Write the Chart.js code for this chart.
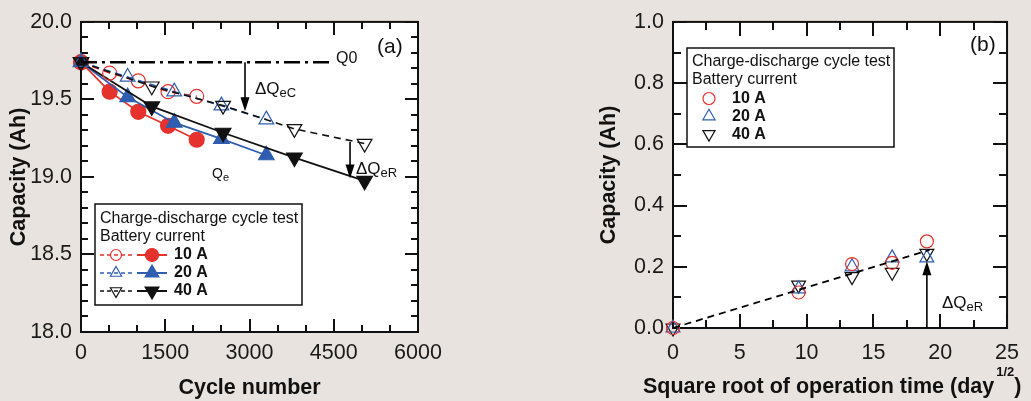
<!DOCTYPE html>
<html><head><meta charset="utf-8">
<script src="https://cdn.jsdelivr.net/npm/chart.js@4.4.0/dist/chart.umd.min.js"></script>
<style>
html,body{margin:0;padding:0;background:#e8e3de;width:1031px;height:401px;overflow:hidden;}
#wa{position:absolute;left:0;top:0;width:460px;height:401px;}
#wb{position:absolute;left:590px;top:0;width:441px;height:401px;}
canvas{display:block;}
</style></head><body>
<div id="wa"><canvas id="ca" width="460" height="401"></canvas></div>
<div id="wb"><canvas id="cb" width="441" height="401"></canvas></div>
<script>
// ---------- Panel (a) data ----------
const cycles10 = [0, 510, 1020, 1550, 2060];
const cap10Open = [19.74, 19.67, 19.62, 19.55, 19.52];
const cap10Filled = [19.74, 19.55, 19.42, 19.33, 19.24];
const cycles20 = [0, 830, 1660, 2500, 3300];
const cap20Open = [19.74, 19.645, 19.55, 19.46, 19.37];
const cap20Filled = [19.74, 19.515, 19.35, 19.245, 19.14];
const cycles40 = [0, 1260, 2530, 3800, 5050];
const cap40Open = [19.74, 19.585, 19.46, 19.31, 19.215];
const cap40Filled = [19.74, 19.455, 19.285, 19.125, 18.975];
const q0Cycles = [0, 4480];
const q0Cap = [19.74, 19.74];
const arrowC = {cycle: 2920, from: 19.74, to: 19.424};
const arrowR = {cycle: 4790, from: 19.225, to: 18.99};
const xTicksA = [0, 1500, 3000, 4500, 6000];
const xMinorA = [500, 1000, 2000, 2500, 3500, 4000, 5000, 5500];
const yTicksA = [18.0, 18.5, 19.0, 19.5, 20.0];
const yMinorA = [18.1,18.2,18.3,18.4,18.6,18.7,18.8,18.9,19.1,19.2,19.3,19.4,19.6,19.7,19.8,19.9];
const legendLabels = ['10 A', '20 A', '40 A'];
const legendHeader = ['Charge-discharge cycle test', 'Battery current'];

// ---------- Panel (b) data ----------
const sqrtTime = [0, 9.4, 13.4, 16.4, 19.0];
const loss10 = [0, 0.116, 0.209, 0.213, 0.283];
const loss20 = [0, 0.128, 0.200, 0.229, 0.229];
const loss40 = [0, 0.140, 0.168, 0.182, 0.244];
const fitX = [0, 19.2];
const fitY = [0, 0.255];
const arrowB = {x: 19.0, from: 0, to: 0.218};
const xTicksB = [0, 5, 10, 15, 20, 25];
const xMinorB = [2.5, 7.5, 12.5, 17.5, 22.5];
const yTicksB = [0.0, 0.2, 0.4, 0.6, 0.8, 1.0];
const yMinorB = [0.1, 0.3, 0.5, 0.7, 0.9];

const RED = '#e5322d', BLUE = '#2f5db0', BLACK = '#111111';
const FONT = '"Liberation Sans", Arial, Helvetica, sans-serif';
const pts = (xs, ys) => xs.map((x, i) => ({x, y: ys[i]}));

Chart.defaults.font.family = FONT;

const bgPlugin = {
  id: 'plotBg',
  beforeDraw(chart) {
    const {ctx, chartArea: a} = chart;
    ctx.save(); ctx.fillStyle = '#ffffff';
    ctx.fillRect(a.left, a.top, a.right - a.left, a.bottom - a.top);
    ctx.restore();
  },
  beforeDatasetsDraw(chart, args, o) {
    const {ctx, chartArea: a, scales: {x, y}} = chart;
    ctx.save(); ctx.strokeStyle = '#111'; ctx.lineWidth = 2; ctx.setLineDash([]);
    const tick = (vals, len, horiz) => {
      vals.forEach(v => {
        ctx.beginPath();
        if (horiz) {
          const px = Math.round(x.getPixelForValue(v));
          ctx.moveTo(px, a.bottom); ctx.lineTo(px, a.bottom - len);
          ctx.moveTo(px, a.top); ctx.lineTo(px, a.top + len);
        } else {
          const py = Math.round(y.getPixelForValue(v));
          ctx.moveTo(a.left, py); ctx.lineTo(a.left + len, py);
          ctx.moveTo(a.right, py); ctx.lineTo(a.right - len, py);
        }
        ctx.stroke();
      });
    };
    tick(o.xMajor, o.major, true); tick(o.xMinor, o.minor, true);
    tick(o.yMajor, o.major, false); tick(o.yMinor, o.minor, false);
    ctx.strokeRect(a.left, a.top, a.right - a.left, a.bottom - a.top);
    ctx.restore();
  }
};

function arrow(ctx, x, y1, y2) {
  const d = Math.sign(y2 - y1);
  ctx.save(); ctx.strokeStyle = '#000'; ctx.fillStyle = '#000'; ctx.lineWidth = 1.6; ctx.setLineDash([]);
  ctx.beginPath(); ctx.moveTo(x, y1); ctx.lineTo(x, y2 - d * 10); ctx.stroke();
  ctx.beginPath(); ctx.moveTo(x, y2); ctx.lineTo(x - 4.5, y2 - d * 14); ctx.lineTo(x + 4.5, y2 - d * 14); ctx.closePath(); ctx.fill();
  ctx.restore();
}
function subText(ctx, x, y, main, sub, ms, ss) {
  ctx.save(); ctx.fillStyle = '#111'; ctx.textBaseline = 'alphabetic'; ctx.textAlign = 'left';
  ctx.font = ms + 'px ' + FONT; ctx.fillText(main, x, y);
  const w = ctx.measureText(main).width;
  ctx.font = ss + 'px ' + FONT; ctx.fillText(sub, x + w, y + 3);
  ctx.restore();
}
function marker(ctx, style, rot, r, x, y, color, filled) {
  ctx.save(); ctx.setLineDash([]);
  ctx.strokeStyle = color; ctx.fillStyle = filled ? color : 'rgba(0,0,0,0)'; ctx.lineWidth = 1.2;
  Chart.helpers.drawPoint(ctx, {pointStyle: style, rotation: rot, radius: r, borderWidth: 1.2}, x, y);
  ctx.restore();
}
const styles = [
  {color: RED, style: 'circle', rot: 0, ro: 7, rf: 7.5},
  {color: BLUE, style: 'triangle', rot: 0, ro: 8.5, rf: 9},
  {color: BLACK, style: 'triangle', rot: 180, ro: 8.5, rf: 9}
];

// ---------- Chart (a) ----------
const annotA = {
  id: 'annotA',
  afterDatasetsDraw(chart) {
    const {ctx, scales: {x, y}} = chart;
    arrow(ctx, x.getPixelForValue(arrowC.cycle), y.getPixelForValue(arrowC.from), y.getPixelForValue(arrowC.to));
    arrow(ctx, x.getPixelForValue(arrowR.cycle), y.getPixelForValue(arrowR.from), y.getPixelForValue(arrowR.to));
    ctx.save(); ctx.fillStyle = '#111'; ctx.textBaseline = 'middle';
    ctx.font = '16px ' + FONT; ctx.fillText('Q0', 336, 59);
    ctx.font = '21px ' + FONT; ctx.fillText('(a)', 377, 47);
    ctx.restore();
    subText(ctx, 255, 94, 'ΔQ', 'eC', 17, 13);
    subText(ctx, 356, 174, 'ΔQ', 'eR', 17, 13);
    subText(ctx, 212, 178, 'Q', 'e', 14, 11);
    // legend
    ctx.save();
    ctx.fillStyle = '#fff'; ctx.fillRect(95, 204, 207, 101);
    ctx.strokeStyle = '#111'; ctx.lineWidth = 1.5; ctx.strokeRect(95, 204, 207, 101);
    ctx.fillStyle = '#111'; ctx.textBaseline = 'middle'; ctx.font = '16px ' + FONT;
    ctx.fillText(legendHeader[0], 100, 219); ctx.fillText(legendHeader[1], 100, 237);
    legendLabels.forEach((lab, i) => {
      const s = styles[i], yy = 255 + 18 * i;
      ctx.strokeStyle = s.color; ctx.lineWidth = 1.5; ctx.setLineDash([4, 3]);
      ctx.beginPath(); ctx.moveTo(100, yy); ctx.lineTo(133, yy); ctx.stroke();
      ctx.setLineDash([]); ctx.lineWidth = 2;
      ctx.beginPath(); ctx.moveTo(137, yy); ctx.lineTo(167, yy); ctx.stroke();
      marker(ctx, s.style, s.rot, s.style === 'circle' ? 5.5 : 6.5, 116, yy, s.color, false);
      marker(ctx, s.style, s.rot, s.style === 'circle' ? 6.5 : 8, 152, yy, s.color, true);
      ctx.fillStyle = '#111'; ctx.font = 'bold 16px ' + FONT; ctx.fillText(lab, 174, yy);
    });
    ctx.restore();
  }
};

function ds(data, s, filled, dashed, order) {
  return {
    data, showLine: true, clip: false, order,
    borderColor: s.color, borderWidth: dashed ? 1.6 : 1.8, borderDash: dashed ? [7, 5] : [],
    pointStyle: s.style, pointRotation: s.rot, pointRadius: filled ? s.rf : s.ro,
    pointBackgroundColor: filled ? s.color : 'rgba(0,0,0,0)', pointBorderColor: s.color,
    pointBorderWidth: 1.2
  };
}

function scaleCfg(c) {
  return {
    x: {
      type: 'linear', min: c.xmin, max: c.xmax,
      afterFit(s) { s.height = c.xh; },
      afterBuildTicks(s) { s.ticks = c.xt.map(v => ({value: v})); },
      grid: {display: false, drawTicks: false}, border: {display: false},
      ticks: {autoSkip: false, maxRotation: 0, padding: c.xpad, color: '#1a1a1a',
        font: {family: FONT, size: 21.5}, callback: v => String(v)},
      title: c.xtitle ? {display: true, text: c.xtitle, color: '#111',
        font: {family: FONT, size: 21.5, weight: 'bold', lineHeight: 1.2}, padding: {top: 0, bottom: 0}} : {display: false}
    },
    y: {
      type: 'linear', min: c.ymin, max: c.ymax,
      afterFit(s) { s.width = c.yw; },
      afterBuildTicks(s) { s.ticks = c.yt.map(v => ({value: v})); },
      grid: {display: false, drawTicks: false}, border: {display: false},
      ticks: {autoSkip: false, padding: 9, color: '#1a1a1a',
        font: {family: FONT, size: 21.5}, callback: v => Number(v).toFixed(1)},
      title: {display: true, text: 'Capacity (Ah)', color: '#111',
        font: {family: FONT, size: 21.5, weight: 'bold', lineHeight: 1.2}, padding: {top: 6, bottom: 0}}
    }
  };
}

new Chart(document.getElementById('ca'), {
  type: 'scatter',
  data: {datasets: [
    {data: pts(q0Cycles, q0Cap), showLine: true, borderColor: '#000', borderWidth: 2.5,
     borderDash: [16, 5, 3, 5], pointRadius: 0, order: 0},
    ds(pts(cycles40, cap40Open), styles[2], false, true, 1),
    ds(pts(cycles20, cap20Open), styles[1], false, true, 2),
    ds(pts(cycles10, cap10Open), styles[0], false, true, 3),
    ds(pts(cycles40, cap40Filled), styles[2], true, false, 4),
    ds(pts(cycles20, cap20Filled), styles[1], true, false, 5),
    ds(pts(cycles10, cap10Filled), styles[0], true, false, 6)
  ]},
  options: {
    responsive: false, animation: false, events: [],
    layout: {padding: {top: 16, right: 42, left: 0, bottom: 0}},
    plugins: {legend: {display: false}, tooltip: {enabled: false},
      plotBg: {xMajor: xTicksA, xMinor: xMinorA, yMajor: yTicksA, yMinor: yMinorA, major: 13, minor: 7}},
    scales: scaleCfg({xmin: 0, xmax: 6000, ymin: 18, ymax: 20, xh: 69, yw: 81, xpad: 8,
      xt: xTicksA, yt: yTicksA, xtitle: 'Cycle number'})
  },
  plugins: [bgPlugin, annotA]
});

// ---------- Chart (b) ----------
const annotB = {
  id: 'annotB',
  afterDatasetsDraw(chart) {
    const {ctx, scales: {x, y}} = chart;
    arrow(ctx, x.getPixelForValue(arrowB.x), y.getPixelForValue(arrowB.from), y.getPixelForValue(arrowB.to));
    subText(ctx, 352, 308, 'ΔQ', 'eR', 17, 13);
    ctx.save(); ctx.fillStyle = '#111'; ctx.textBaseline = 'middle';
    ctx.font = '21px ' + FONT; ctx.fillText('(b)', 380, 45);
    // x title with superscript
    ctx.font = 'bold 21.5px ' + FONT;
    const t = 'Square root of operation time (day';
    ctx.fillText(t, 53, 387);
    let w = ctx.measureText(t).width;
    ctx.font = 'bold 13px ' + FONT; ctx.fillText('1/2', 53 + w + 2, 372);
    const w2 = ctx.measureText('1/2').width;
    ctx.font = 'bold 21.5px ' + FONT; ctx.fillText(')', 53 + w + w2 + 2, 387);
    // legend
    ctx.fillStyle = '#fff'; ctx.fillRect(97, 48, 207, 99);
    ctx.strokeStyle = '#111'; ctx.lineWidth = 1.5; ctx.strokeRect(97, 48, 207, 99);
    ctx.fillStyle = '#111'; ctx.font = '16px ' + FONT;
    ctx.fillText(legendHeader[0], 102, 62); ctx.fillText(legendHeader[1], 102, 80);
    legendLabels.forEach((lab, i) => {
      const s = styles[i], yy = 98.5 + 17.8 * i;
      marker(ctx, s.style, s.rot, s.style === 'circle' ? 6 : 7, 119, yy, s.color, false);
      ctx.fillStyle = '#111'; ctx.font = 'bold 16px ' + FONT; ctx.fillText(lab, 142, yy);
    });
    ctx.restore();
  }
};

function dsB(data, s) {
  return {data, showLine: false, clip: false, pointStyle: s.style, pointRotation: s.rot,
    pointRadius: s.style === 'circle' ? 6.5 : 8, pointBackgroundColor: 'rgba(0,0,0,0)',
    pointBorderColor: s.color, pointBorderWidth: 1.2};
}

new Chart(document.getElementById('cb'), {
  type: 'scatter',
  data: {datasets: [
    {data: pts(fitX, fitY), showLine: true, borderColor: '#000', borderWidth: 1.8,
     borderDash: [7, 5], pointRadius: 0, clip: false},
    dsB(pts(sqrtTime, loss10), styles[0]),
    dsB(pts(sqrtTime, loss20), styles[1]),
    dsB(pts(sqrtTime, loss40), styles[2])
  ]},
  options: {
    responsive: false, animation: false, events: [],
    layout: {padding: {top: 16, right: 16, left: 0, bottom: 0}},
    plugins: {legend: {display: false}, tooltip: {enabled: false},
      plotBg: {xMajor: xTicksB, xMinor: xMinorB, yMajor: yTicksB, yMinor: yMinorB, major: 14, minor: 8}},
    scales: scaleCfg({xmin: 0, xmax: 25, ymin: 0, ymax: 1, xh: 73, yw: 83, xpad: 12,
      xt: xTicksB, yt: yTicksB, xtitle: null})
  },
  plugins: [bgPlugin, annotB]
});
</script>
</body></html>
